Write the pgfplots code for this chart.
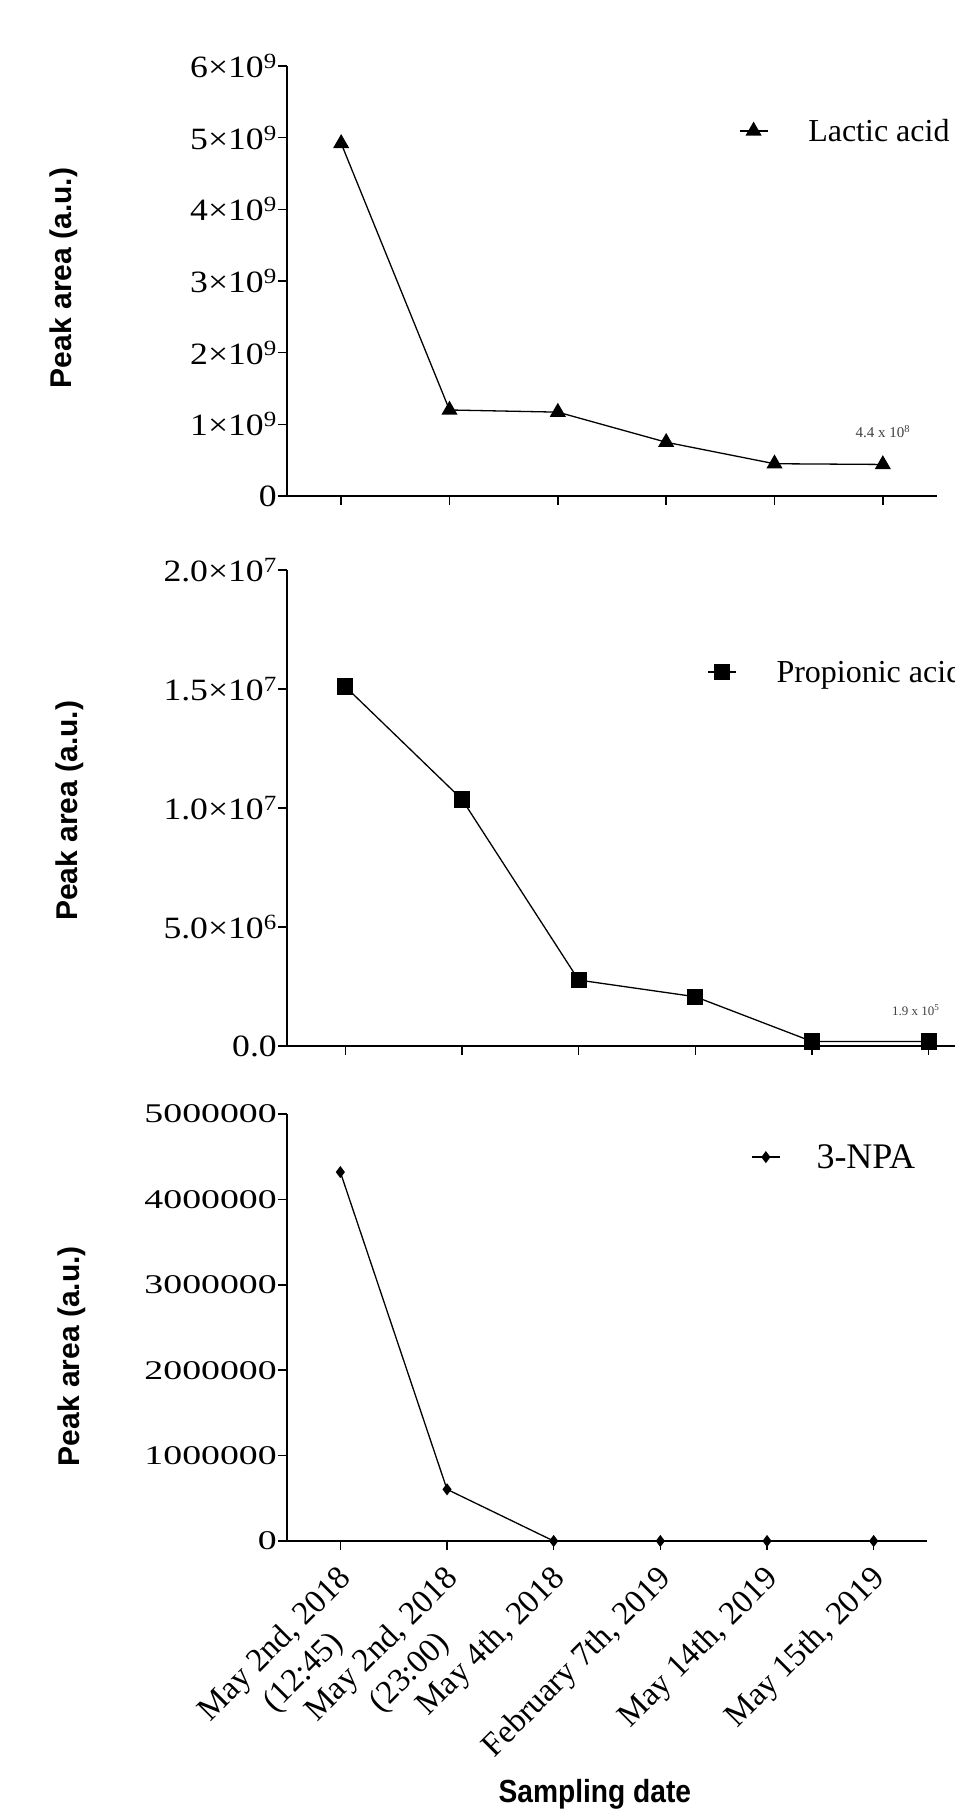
\documentclass[border=0pt]{standalone}
\usepackage{fontspec}
\setmainfont{Liberation Serif}
\newfontfamily\arialb{Liberation Sans}
\newfontfamily\arialc{Liberation Sans}[FakeStretch=0.88]
\newfontfamily\tickA{Liberation Serif}[FakeStretch=1.15]
\newfontfamily\tickB{Liberation Serif}[FakeStretch=1.4]
\usepackage{pgfplots}
\pgfplotsset{compat=1.18}

% second line of a two-line date label, centred under the first one
\newcommand{\twoline}[3]{#1\llap{\raisebox{-1.2em}[0pt][0pt]{#2}\hspace{#3}}}

\pgfplotsset{
  panel/.style={
    scale only axis, anchor=south west, clip=false,
    axis x line*=bottom, axis y line*=left,
    xmin=0.5, xmax=6.5, ymin=0,
    xtick={1,2,3,4,5,6},
    scaled y ticks=false,
    tick align=outside, major tick length=9pt,
    axis line style={line width=1.8pt},
    every tick/.style={black, line width=1.5pt},
    yticklabel style={inner sep=1pt, anchor=east},
    legend image code/.code={\draw[mark repeat=2, mark phase=2, #1] plot coordinates {(0pt,0pt) (14pt,0pt) (28pt,0pt)};},
    legend style={draw=none, fill=none, inner sep=0pt, anchor=west, font=\fontsize{32}{36}\selectfont},
    ylabel={\arialb\bfseries Peak area (a.u.)},
    ylabel style={anchor=center, font=\fontsize{30}{34}\selectfont},
  },
  series/.style={black, line width=1.3pt},
}

\begin{document}
\begin{tikzpicture}
% top panel: lactic acid
\begin{axis}[panel,
  at={(287pt,1322pt)}, width=650pt, height=430pt,
  ymax=6e9,
  ytick={0,1e9,2e9,3e9,4e9,5e9,6e9},
  yticklabels={0, 1×10\textsuperscript{9}, 2×10\textsuperscript{9}, 3×10\textsuperscript{9}, 4×10\textsuperscript{9}, 5×10\textsuperscript{9}, 6×10\textsuperscript{9}},
  yticklabel style={font=\fontsize{31}{34}\tickA},
  xticklabels={},
  ylabel style={at={(axis description cs:-0.343,0.507)}},
  legend style={at={(0.695,0.849)}},
]
\addplot[series, mark=triangle*, mark size=8pt]
  coordinates {(1,4.92e9)(2,1.20e9)(3,1.17e9)(4,0.75e9)(5,0.45e9)(6,0.44e9)};
\addlegendentry{\hspace{38pt}Lactic acid}
\node[font=\fontsize{15}{17}\selectfont, text=black!75] at (axis cs:6,0.9e9) {4.4 x 10\textsuperscript{8}};
\end{axis}

% middle panel: propionic acid
\begin{axis}[panel,
  at={(287pt,772pt)}, width=700pt, height=476pt,
  ymax=2e7,
  ytick={0,5e6,1e7,1.5e7,2e7},
  yticklabels={0.0, 5.0×10\textsuperscript{6}, 1.0×10\textsuperscript{7}, 1.5×10\textsuperscript{7}, 2.0×10\textsuperscript{7}},
  yticklabel style={font=\fontsize{31}{34}\tickA},
  xticklabels={},
  ylabel style={at={(axis description cs:-0.31,0.494)}},
  legend style={at={(0.600,0.786)}},
]
\addplot[series, mark=square*, mark size=7.5pt]
  coordinates {(1,1.51e7)(2,1.036e7)(3,2.77e6)(4,2.07e6)(5,1.9e5)(6,1.9e5)};
\addlegendentry{\hspace{38pt}Propionic acid}
\node[font=\fontsize{13}{15}\selectfont, text=black!75] at (axis cs:5.89,1.51e6) {1.9 x 10\textsuperscript{5}};
\end{axis}

% bottom panel: 3-NPA
\begin{axis}[panel,
  at={(287pt,277pt)}, width=640pt, height=427pt,
  ymax=5e6,
  ytick={0,1e6,2e6,3e6,4e6,5e6},
  yticklabels={0, 1000000, 2000000, 3000000, 4000000, 5000000},
  yticklabel style={font=\fontsize{27}{30}\tickB},
  xticklabels={{\twoline{May 2nd, 2018}{(12:45)}{1.57em}}, {\twoline{May 2nd, 2018}{(23:00)}{1.57em}}, {May 4th, 2018}, {February 7th, 2019}, {May 14th, 2019}, {May 15th, 2019}},
  xticklabel style={xshift=9pt, yshift=-22pt, rotate=45, anchor=east, font=\fontsize{33}{38}\selectfont},
  ylabel style={at={(axis description cs:-0.336,0.433)}},
  xlabel={\arialc\bfseries Sampling date},
  xlabel style={at={(axis description cs:0.481,-0.593)}, anchor=center, font=\fontsize{32}{36}\selectfont},
  legend style={at={(0.725,0.899)}, font=\fontsize{36}{40}\selectfont},
]
\addplot[series, mark=diamond*, mark size=5pt]
  coordinates {(1,4.32e6)(2,6.05e5)(3,0)(4,0)(5,0)(6,0)};
\addlegendentry{\hspace{34pt}3-NPA}
\end{axis}

\pgfresetboundingbox
\useasboundingbox (0pt,0pt) rectangle (955pt,1818pt);
\end{tikzpicture}
\end{document}
